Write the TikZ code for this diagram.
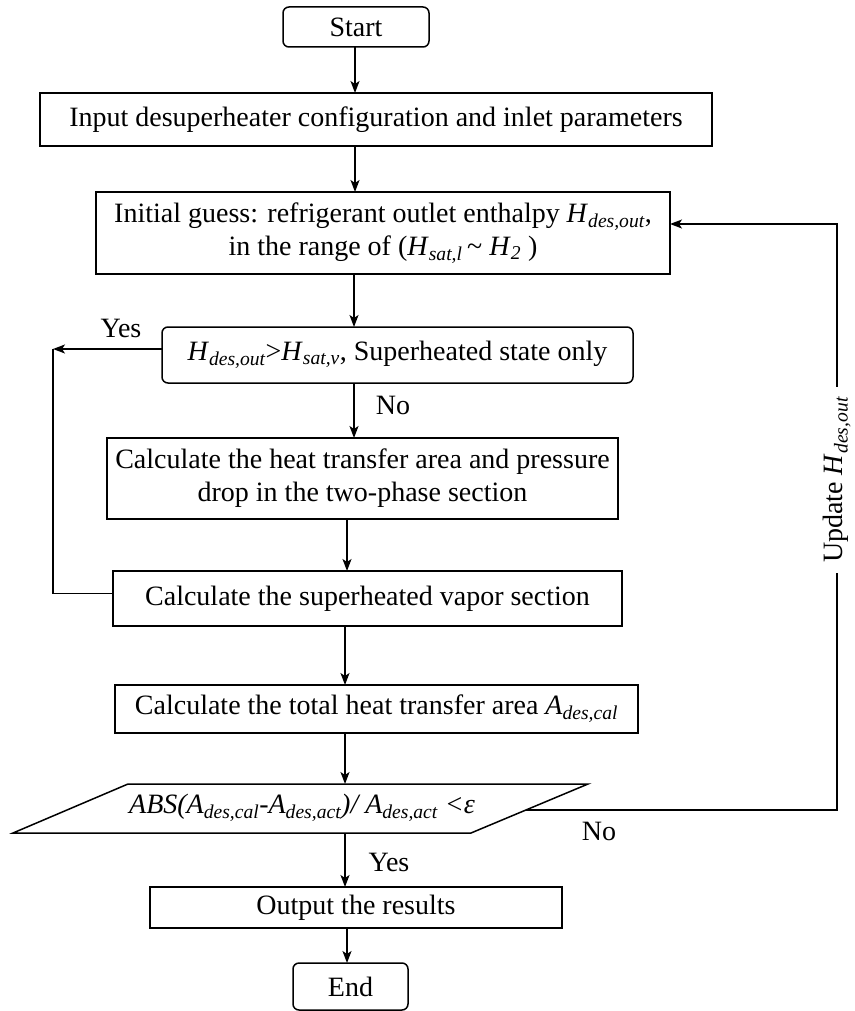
\documentclass[tikz,border=0pt]{standalone}
\usepackage{fontspec}
\setmainfont{Liberation Serif}
\usetikzlibrary{arrows.meta,calc}
% italic symbol and italic subscript
\newcommand\I[1]{\textit{#1}}
\newcommand\sbi[1]{\textsubscript{\itshape #1}}

\begin{document}
\begin{tikzpicture}[x=1pt,y=-1pt,
  font=\fontsize{28}{33}\selectfont,
  every node/.style={inner sep=0pt, outer sep=0pt, align=center},
  box/.style={draw, line width=1.5pt},
  rbox/.style={box, rounded corners=6pt},
  line/.style={line width=1.5pt},
  arr/.style={line, -{Stealth[length=12pt,width=9pt,inset=3pt]}}]

\useasboundingbox (0,0) rectangle (854,1011);

% process boxes
\node[rbox, minimum width=146pt, minimum height=40pt] (start) at (356,27) {Start};
\node[box, minimum width=672pt, minimum height=53pt] (input) at (376,119.5)
  {Input desuperheater configuration and inlet parameters};
\node[box, minimum width=574pt, minimum height=82pt] (guess) at (383,233)
  {Initial guess: refrigerant outlet enthalpy \I{H}\sbi{des,out},\\
   in the range of (\I{H}\sbi{sat,l}\,\textasciitilde\ \I{H}\sbi{2} )};
\node[rbox, minimum width=471pt, minimum height=56pt] (dec) at (397.5,355)
  {\I{H}\sbi{des,out}>\I{H}\sbi{sat,v}, Superheated state only};
\node[box, minimum width=511pt, minimum height=81pt] (two) at (362.5,478.5)
  {Calculate the heat transfer area and pressure\\ drop in the two-phase section};
\node[box, minimum width=509pt, minimum height=55pt] (vap) at (367.5,598.5)
  {Calculate the superheated vapor section};
\node[box, minimum width=523pt, minimum height=48pt] (tot) at (376.5,709)
  {Calculate the total heat transfer area \I{A}\sbi{des,cal}};

% convergence check (parallelogram)
\coordinate (pTL) at (128,784);
\coordinate (pTR) at (588,784);
\coordinate (pBR) at (471,833);
\coordinate (pBL) at (13,833);
\draw[line] (pTL) -- (pTR) -- (pBR) -- (pBL) -- cycle;
\node (chk) at (302,808)
  {\itshape ABS(A\sbi{des,cal}-A\sbi{des,act})/ A\sbi{des,act} <ε};
\coordinate (chkR) at ($(pBR)!0.47!(pTR)$);

\node[box, minimum width=412pt, minimum height=41pt] (out) at (356,907.5) {Output the results};
\node[rbox, minimum width=115pt, minimum height=47pt] (end) at (350.5,986.5) {End};

% vertical flow lines
\coordinate (s1) at (355,0);
\coordinate (s2) at (354,0);
\coordinate (s3) at (347,0);
\coordinate (s4) at (345,0);
\draw[arr] (start.south -| s1) -- (input.north -| s1);
\draw[arr] (input.south -| s1) -- (guess.north -| s1);
\draw[arr] (guess.south -| s2) -- (dec.north -| s2);
\draw[arr] (dec.south -| s2) -- (two.north -| s2);
\draw[arr] (two.south -| s3) -- (vap.north -| s3);
\draw[arr] (vap.south -| s4) -- (tot.north -| s4);
\draw[arr] (tot.south -| s4) -- (pTL -| s4);
\draw[arr] (pBL -| s4) -- (out.north -| s4);
\draw[arr] (out.south -| s3) -- (end.north -| s3);

% superheated-only branch
\coordinate (yc) at (53,0);
\coordinate (dout) at ([yshift=6pt]dec.west);
\coordinate (vin) at ([yshift=5pt]vap.west);
\draw[arr] (dout) -- (dout -| yc);
\draw[line] (dout -| yc) -- (vin -| yc) -- (vin);

% iteration loop
\coordinate (rc) at (837,0);
\coordinate (gin) at ([yshift=9pt]guess.east);
\draw[arr] (chkR) -- (chkR -| rc) -- (gin -| rc) -- (gin);
\node[fill=white, rotate=90, inner xsep=10pt, inner ysep=2pt] (upd) at (837,480)
  {Update \I{H}\sbi{des,out}};

% branch labels
\node (yes1) at (121,328) {Yes};
\node (no1) at (393,405) {No};
\node (no2) at (599,831) {No};
\node (yes2) at (389,862) {Yes};

\end{tikzpicture}
\end{document}
